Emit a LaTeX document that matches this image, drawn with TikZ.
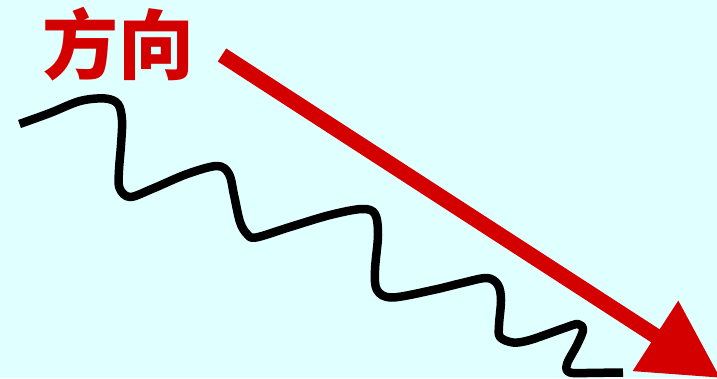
\documentclass[tikz,border=0pt]{standalone}
\usepackage{fontspec}
\newfontfamily\cjk{Noto Sans CJK SC}
\usetikzlibrary{arrows.meta}
\definecolor{bgcyan}{RGB}{224,255,255}
\definecolor{dirred}{RGB}{212,0,0}
\tikzset{
  wave/.style={line width=8.5pt, black, line join=round},
  dirarrow/.style={line width=15.5pt, dirred, -{Triangle[length=77.5pt, width=79.5pt]}},
  dirlabel/.style={text=dirred, inner sep=0pt, font=\cjk\bfseries\fontsize{76pt}{76pt}\selectfont}
}
\begin{document}
\begin{tikzpicture}[x=1pt, y=-1pt]
  \fill[bgcyan] (0,0) rectangle (717,378);
  \useasboundingbox (0,0) rectangle (717,378);
  \node[dirlabel] (label) at (118.5,44.5) {方向};
  \coordinate (arrowstart) at (222,55);
  \coordinate (arrowtip) at (720.5,378);
  \draw[dirarrow] (arrowstart) -- (arrowtip);
  \draw[wave] plot[smooth, tension=0.55] coordinates {
    (19.5,124) (50,113) (80,101) (105,98.5) (118,104) (122,120) (121,145) (119,170) (119.5,188) (130,197)
    (153,188.5) (187,174) (217,166) (229,174) (234,195) (240,222) (247,234) (256,237.5)
    (290,227) (330,215) (362,209) (375,214) (378,235) (375,270) (377,290) (392,297.5)
    (433,290) (462,283) (487,278) (498,285) (501,300) (499,325) (500,337) (513,342.5)
    (530,340) (563,328.5) (578,324) (583,330) (577,345) (567,364) (570,372.5) (595,372.8) (623,372.5)
  };
\end{tikzpicture}
\end{document}
